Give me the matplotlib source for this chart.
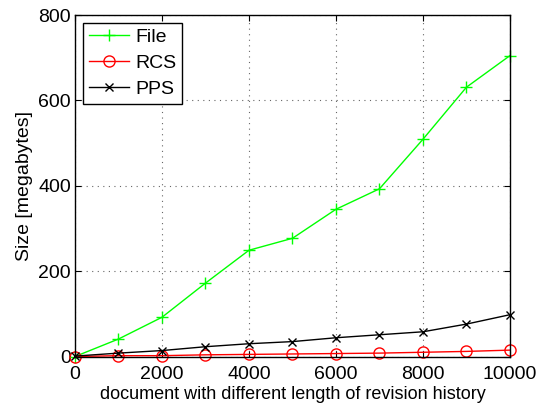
import matplotlib
matplotlib.use("Agg")
import matplotlib.pyplot as plt

x = [0, 1000, 2000, 3000, 4000, 5000, 6000, 7000, 8000, 9000, 10000]
file_sizes = [0, 41, 92, 172, 249, 277, 345, 393, 509, 631, 705]
rcs_sizes = [0, 2, 2, 4, 5, 6, 7, 8, 10, 12, 15]
pps_sizes = [1, 8, 14, 23, 30, 35, 44, 51, 58, 76, 98]

plt.rcParams['font.family'] = ['Liberation Sans', 'DejaVu Sans']

fig = plt.figure(figsize=(5.41, 4.07), dpi=100)
ax = fig.add_axes([0.1386, 0.124, 0.804, 0.839])

ax.plot(x, file_sizes, color=(0, 1, 0), marker='+', markersize=8, lw=1, label='File', clip_on=False)
ax.plot(x, rcs_sizes, color='red', marker='o', markersize=8, mfc='none', lw=1, label='RCS', clip_on=False)
ax.plot(x, pps_sizes, color='black', marker='x', markersize=6, lw=1, label='PPS', clip_on=False)

ax.set_xlim(0, 10000)
ax.set_ylim(0, 800)
ax.set_xticks(range(0, 10001, 2000))
ax.set_yticks(range(0, 801, 200))
ax.tick_params(direction='in', top=True, right=True, labelsize=14, length=4)
ax.tick_params(axis='x', pad=7)
ax.tick_params(axis='y', pad=3)
ax.grid(True, linestyle=(0, (1, 4)), color='#666666', linewidth=0.8)
for s in ax.spines.values():
    s.set_linewidth(1)

ax.set_xlabel('document with different length of revision history', fontsize=13, labelpad=2)
ax.set_ylabel('Size [megabytes]', fontsize=14, labelpad=4)

leg = ax.legend(loc='upper left', fontsize=14, frameon=True, fancybox=False,
                edgecolor='black', framealpha=1, handlelength=2.1, borderpad=0.3,
                labelspacing=0.42, handletextpad=0.3, borderaxespad=0.4)
leg.get_frame().set_linewidth(1)

fig.savefig('out.png', dpi=100)
